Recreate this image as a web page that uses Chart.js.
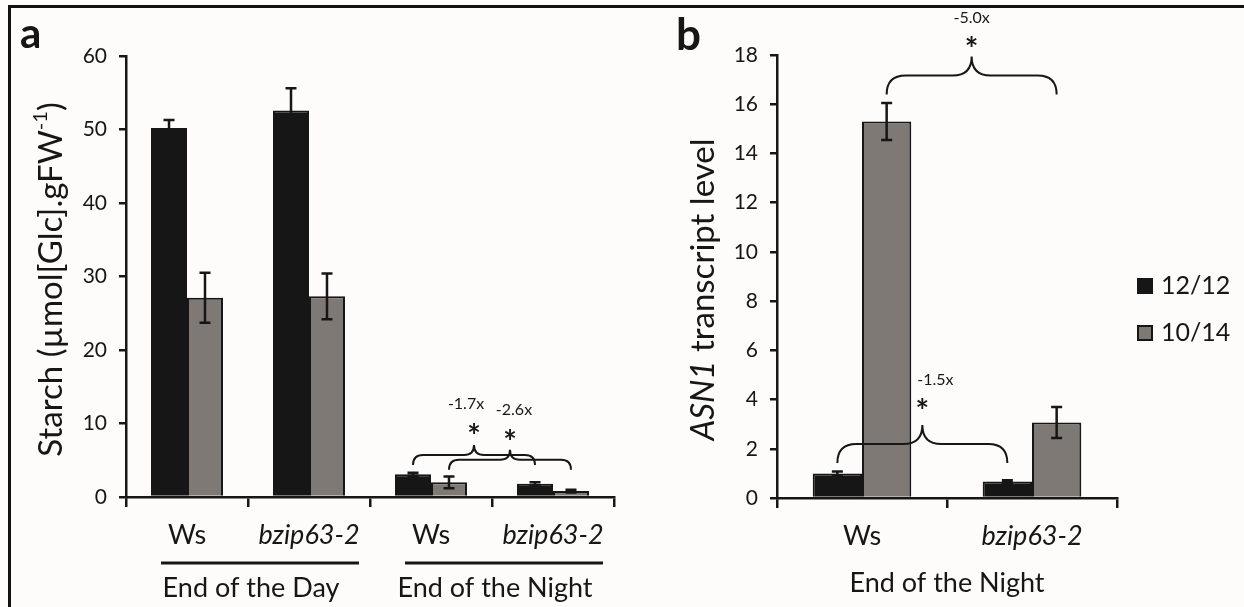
<!DOCTYPE html>
<html>
<head>
<meta charset="utf-8">
<script src="https://cdn.jsdelivr.net/npm/chart.js@4.4.0/dist/chart.umd.min.js"></script>
<style>
    html, body { margin: 0; padding: 0; background: #fdfcfb; overflow: hidden; }
    #graficoA { position: absolute; left: 0; top: 0; }
    #graficoB { position: absolute; left: 640px; top: 0; }
    #marco { position: absolute; left: 8px; top: 5px; width: 1240px; height: 610px;
             border-top: 3px solid #111; border-left: 3px solid #111; pointer-events: none; }
</style>
</head>
<body>
<canvas id="graficoA" width="640" height="607"></canvas>
<canvas id="graficoB" width="604" height="607"></canvas>
<div id="marco"></div>
<script>
// ---- datos panel a (almidon) ----
var categoriasA = ['Ws', 'bzip63-2', 'Ws', 'bzip63-2'];
var gruposA = ['End of the Day', 'End of the Night'];
var almidon1212 = [50.2, 52.6, 3.1, 1.8];
var errorAlmidon1212 = [1.1, 3.0, 0.2, 0.2];
var almidon1014 = [27.1, 27.3, 2.0, 0.8];
var errorAlmidon1014 = [3.4, 3.1, 0.8, 0.2];

// ---- datos panel b (ASN1) ----
var categoriasB = ['Ws', 'bzip63-2'];
var grupoB = 'End of the Night';
var asn1_1212 = [1.0, 0.67];
var errorAsn1_1212 = [0.08, 0.05];
var asn1_1014 = [15.3, 3.07];
var errorAsn1_1014 = [0.75, 0.63];

var series = ['12/12', '10/14'];

// llaves de significancia: serie, barra inicial, barra final, nivel en el eje y, cambio
var llavesA = [
    {serie: 0, desde: 2, hasta: 3, nivel: 4.35, texto: '-1.7x'},
    {serie: 1, desde: 2, hasta: 3, nivel: 3.7, texto: '-2.6x'}
];
var llavesB = [
    {serie: 0, desde: 0, hasta: 1, nivel: 1.42, texto: '-1.5x'},
    {serie: 1, desde: 0, hasta: 1, nivel: 16.4, texto: '-5.0x'}
];

var fuente = 'Lato, "Open Sans", sans-serif';
var tinta = '#161616';
var negro = '#161616';
var gris = '#7f7975';

function fuenteTick(ctx) {
    var etiqueta = ctx.tick ? String(ctx.tick.label) : '';
    return {family: fuente, size: 27, style: etiqueta.indexOf('bzip') === 0 ? 'italic' : 'normal'};
}

function textoCentrado(ctx, texto, x, y) {
    var m = ctx.measureText(texto);
    ctx.fillText(texto, x, y + (m.actualBoundingBoxAscent - m.actualBoundingBoxDescent) / 2);
}

function dibujarLlave(ctx, x1, x2, yBase, r) {
    var xm = (x1 + x2) / 2;
    var yLinea = yBase - r;
    var yPico = yLinea - r;
    ctx.beginPath();
    ctx.moveTo(x1, yBase);
    ctx.quadraticCurveTo(x1, yLinea, x1 + r, yLinea);
    ctx.lineTo(xm - r, yLinea);
    ctx.quadraticCurveTo(xm, yLinea, xm, yPico);
    ctx.quadraticCurveTo(xm, yLinea, xm + r, yLinea);
    ctx.lineTo(x2 - r, yLinea);
    ctx.quadraticCurveTo(x2, yLinea, x2, yBase);
    ctx.stroke();
    return yPico;
}

var pluginBarrasError = {
    id: 'barrasError',
    afterDatasetsDraw: function (chart) {
        var ctx = chart.ctx;
        var y = chart.scales.y;
        ctx.save();
        ctx.strokeStyle = tinta;
        ctx.lineWidth = 2.5;
        chart.data.datasets.forEach(function (ds, d) {
            var meta = chart.getDatasetMeta(d);
            meta.data.forEach(function (barra, i) {
                var v = ds.data[i], e = ds.errores[i];
                var yArriba = y.getPixelForValue(v + e);
                var yAbajo = y.getPixelForValue(v - e);
                ctx.beginPath();
                ctx.moveTo(barra.x, yArriba); ctx.lineTo(barra.x, yAbajo);
                ctx.moveTo(barra.x - 5.5, yArriba); ctx.lineTo(barra.x + 5.5, yArriba);
                ctx.moveTo(barra.x - 5.5, yAbajo); ctx.lineTo(barra.x + 5.5, yAbajo);
                ctx.stroke();
            });
        });
        ctx.restore();
    }
};

var pluginAnotaciones = {
    id: 'anotaciones',
    afterDraw: function (chart, args, opciones) {
        var ctx = chart.ctx;
        var y = chart.scales.y;
        var area = chart.chartArea;
        ctx.save();
        ctx.fillStyle = tinta;
        ctx.strokeStyle = tinta;

        // letra del panel
        ctx.font = 'bold ' + opciones.letraTam + 'px ' + fuente;
        ctx.textAlign = 'left';
        ctx.textBaseline = 'alphabetic';
        ctx.fillText(opciones.letra, opciones.letraX, opciones.letraY);

        // titulo del eje y (rotado, con partes de distinto estilo)
        ctx.save();
        ctx.translate(opciones.tituloX, (area.top + area.bottom) / 2 + opciones.tituloDy);
        ctx.rotate(-Math.PI / 2);
        var ancho = 0;
        opciones.titulo.forEach(function (p) {
            ctx.font = (p.estilo || '') + ' ' + p.tam + 'px ' + fuente;
            p.w = ctx.measureText(p.t).width;
            ancho += p.w;
        });
        var xt = -ancho / 2;
        ctx.textBaseline = 'middle';
        opciones.titulo.forEach(function (p) {
            ctx.font = (p.estilo || '') + ' ' + p.tam + 'px ' + fuente;
            ctx.fillText(p.t, xt, p.sube ? -p.sube : 0);
            xt += p.w;
        });
        ctx.restore();

        // llaves, asteriscos y cambios
        ctx.lineWidth = 2;
        ctx.textAlign = 'center';
        opciones.llaves.forEach(function (ll, k) {
            var meta = chart.getDatasetMeta(ll.serie);
            var x1 = meta.data[ll.desde].x;
            var x2 = meta.data[ll.hasta].x;
            var yPico = dibujarLlave(ctx, x1, x2, y.getPixelForValue(ll.nivel), opciones.radio);
            var xm = (x1 + x2) / 2;
            ctx.font = 'bold 32px ' + fuente;
            textoCentrado(ctx, '*', xm, yPico - opciones.sepAsterisco[k]);
            ctx.font = '16px ' + fuente;
            textoCentrado(ctx, ll.texto, xm + opciones.textoDx[k], yPico - opciones.sepTexto[k]);
        });

        // grupos bajo el eje x (panel a)
        if (opciones.grupos) {
            var x = chart.scales.x;
            ctx.lineWidth = 3;
            opciones.grupos.forEach(function (g, k) {
                var xa = x.getPixelForValue(2 * k);
                var xb = x.getPixelForValue(2 * k + 1);
                ctx.beginPath();
                ctx.moveTo(xa - 26, 563);
                ctx.lineTo(xb + 50, 563);
                ctx.stroke();
                ctx.font = '27px ' + fuente;
                ctx.textBaseline = 'middle';
                ctx.fillText(g, (xa + xb) / 2 + 3, 588);
            });
        }

        // leyenda (panel b)
        if (opciones.leyenda) {
            ctx.textAlign = 'left';
            ctx.textBaseline = 'middle';
            ctx.font = '25px ' + fuente;
            chart.data.datasets.forEach(function (ds, d) {
                var lx = area.right + 20;
                var ly = 278 + d * 47;
                ctx.fillStyle = ds.backgroundColor;
                ctx.fillRect(lx, ly, 16, 16);
                ctx.lineWidth = 2;
                ctx.strokeStyle = ds.borderColor;
                ctx.strokeRect(lx + 1, ly + 1, 14, 14);
                ctx.fillStyle = tinta;
                ctx.fillText(ds.label, lx + 24, ly + 8);
            });
        }
        ctx.restore();
    }
};

function ejes(maximo, paso, anchoY, altoX, tituloX) {
    return {
        x: {
            grid: {display: true, drawOnChartArea: false, drawTicks: true, tickLength: 10, color: tinta, lineWidth: 2.5},
            border: {color: tinta, width: 2.5},
            ticks: {color: tinta, padding: 12, font: fuenteTick},
            title: tituloX ? {display: true, text: tituloX, color: tinta, font: {family: fuente, size: 27}, padding: {top: 0, bottom: 8}} : {display: false},
            afterFit: function (s) { s.height = altoX; }
        },
        y: {
            min: 0,
            max: maximo,
            grid: {display: true, drawOnChartArea: false, drawTicks: true, tickLength: 7, color: tinta, lineWidth: 2.5},
            border: {color: tinta, width: 2.5},
            ticks: {stepSize: paso, color: tinta, padding: 12, font: {family: fuente, size: 21}},
            afterFit: function (s) { s.width = anchoY; }
        }
    };
}

var ctxA = document.getElementById('graficoA');
new Chart(ctxA, {
    type: 'bar',
    data: {
        labels: categoriasA,
        datasets: [{
            label: series[0],
            data: almidon1212,
            errores: errorAlmidon1212,
            backgroundColor: negro,
            borderColor: tinta,
            borderWidth: 2,
            categoryPercentage: 0.59,
            barPercentage: 1
        }, {
            label: series[1],
            data: almidon1014,
            errores: errorAlmidon1014,
            backgroundColor: gris,
            borderColor: tinta,
            borderWidth: 2,
            categoryPercentage: 0.59,
            barPercentage: 1
        }]
    },
    options: {
        responsive: false,
        animation: false,
        layout: {padding: {left: 0, top: 56, right: 26, bottom: 0}},
        scales: ejes(60, 10, 126, 110, null),
        plugins: {
            legend: {display: false},
            tooltip: {enabled: false},
            anotaciones: {
                letra: 'a', letraTam: 42, letraX: 20, letraY: 48,
                tituloX: 51, tituloDy: 3,
                titulo: [
                    {t: 'Starch (\u00b5mol[Glc].gFW', tam: 33},
                    {t: '-1', tam: 20, sube: 10},
                    {t: ')', tam: 33}
                ],
                llaves: llavesA, radio: 10,
                sepAsterisco: [17, 16], sepTexto: [42, 40], textoDx: [-8, 4],
                grupos: gruposA
            }
        }
    },
    plugins: [pluginBarrasError, pluginAnotaciones]
});

var ctxB = document.getElementById('graficoB');
new Chart(ctxB, {
    type: 'bar',
    data: {
        labels: categoriasB,
        datasets: [{
            label: series[0],
            data: asn1_1212,
            errores: errorAsn1_1212,
            backgroundColor: negro,
            borderColor: tinta,
            borderWidth: 2,
            categoryPercentage: 0.58,
            barPercentage: 1
        }, {
            label: series[1],
            data: asn1_1014,
            errores: errorAsn1_1014,
            backgroundColor: gris,
            borderColor: tinta,
            borderWidth: 2,
            categoryPercentage: 0.58,
            barPercentage: 1
        }]
    },
    options: {
        responsive: false,
        animation: false,
        layout: {padding: {left: 0, top: 55, right: 127, bottom: 0}},
        scales: ejes(18, 2, 137, 109, grupoB),
        plugins: {
            legend: {display: false},
            tooltip: {enabled: false},
            anotaciones: {
                letra: 'b', letraTam: 44, letraX: 36, letraY: 50,
                tituloX: 63, tituloDy: 13,
                titulo: [
                    {t: 'ASN1', tam: 33, estilo: 'italic'},
                    {t: ' transcript level', tam: 33}
                ],
                llaves: llavesB, radio: 19,
                sepAsterisco: [22, 15], sepTexto: [46, 39], textoDx: [13, 0],
                leyenda: true
            }
        }
    },
    plugins: [pluginBarrasError, pluginAnotaciones]
});
</script>
</body>
</html>
